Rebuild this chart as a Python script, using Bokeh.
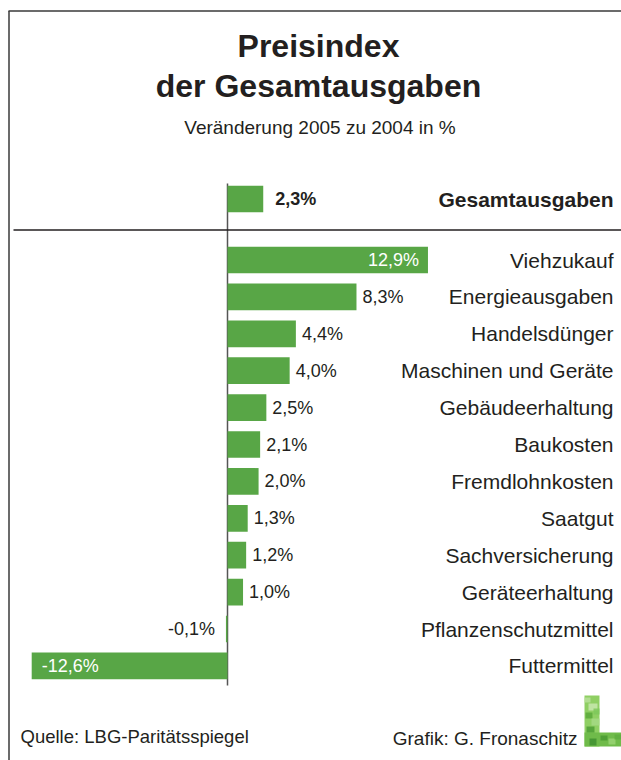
from bokeh.plotting import figure
from bokeh.models import Range1d
from bokeh.core.properties import value
from bokeh.embed import file_html
from bokeh.resources import INLINE

# ---------------- data ----------------
categories = ["Viehzukauf", "Energieausgaben", "Handelsdünger", "Maschinen und Geräte",
              "Gebäudeerhaltung", "Baukosten", "Fremdlohnkosten", "Saatgut",
              "Sachversicherung", "Geräteerhaltung", "Pflanzenschutzmittel", "Futtermittel"]
values = [12.9, 8.3, 4.4, 4.0, 2.5, 2.1, 2.0, 1.3, 1.2, 1.0, -0.1, -12.6]
total_category = "Gesamtausgaben"
total_value = 2.3

title_lines = ["Preisindex", "der Gesamtausgaben"]
subtitle = "Veränderung 2005 zu 2004 in %"
source_text = "Quelle: LBG-Paritätsspiegel"
credit_text = "Grafik: G. Fronaschitz"

# ---------------- layout ----------------
W, H = 621, 760
PX_PER_PCT = 15.54
ZERO_PX = 227.0
ROW0 = 259.5
STEP = 36.9
TOTAL_Y = 198.5
BAR_H = 26.7
GREEN = "#58a646"
INK = "#231f20"
FONT = "Liberation Sans"

XS = -ZERO_PX / PX_PER_PCT
XE = (W - ZERO_PX) / PX_PER_PCT


def cx(px):
    return XS + px / PX_PER_PCT


def fmt(v):
    return f"{v:.1f}".replace(".", ",") + "%"


p = figure(width=W, height=H, output_backend="svg", toolbar_location=None,
           x_range=Range1d(XS, XE), y_range=Range1d(H, 0),
           min_border=0, outline_line_color=None)
p.axis.visible = False
p.grid.visible = False
p.background_fill_color = "white"
p.border_fill_color = "white"

# frame (left and top edges)
p.segment(x0=[cx(8.5), cx(8)], y0=[10.5, 10.5], x1=[cx(8.5), cx(W)], y1=[H, 10.5],
          line_color="#3a3a3a", line_width=1.5)

# title
p.text(x=[cx(318)], y=[45], text=[title_lines[0]], text_font=value(FONT),
       text_font_style="bold", text_font_size="32px", text_color=INK,
       text_align="center", text_baseline="middle")
p.text(x=[cx(318)], y=[85], text=[title_lines[1]], text_font=value(FONT),
       text_font_style="bold", text_font_size="32px", text_color=INK,
       text_align="center", text_baseline="middle")
p.text(x=[cx(319.5)], y=[127], text=[subtitle], text_font=value(FONT),
       text_font_size="19px", text_color=INK,
       text_align="center", text_baseline="middle")

# rows
ys = [ROW0 + i * STEP for i in range(len(categories))]

# zero axis and separator
p.segment(x0=[0], y0=[183], x1=[0], y1=[685], line_color="#555555", line_width=1.5)
p.segment(x0=[cx(13)], y0=[229.5], x1=[cx(W)], y1=[229.5], line_color=INK, line_width=1.3)

# bars
p.hbar(y=ys, left=0, right=values, height=BAR_H, fill_color=GREEN, line_color=None)
p.hbar(y=[TOTAL_Y], left=0, right=[total_value], height=BAR_H, fill_color=GREEN, line_color=None)

# value labels
groups = {"in_r": ([], [], []), "in_l": ([], [], []), "out_r": ([], [], []), "out_l": ([], [], [])}
for v, y in zip(values, ys):
    if v >= 10:
        key = "in_r"
    elif v <= -10:
        key = "in_l"
    elif v >= 0:
        key = "out_r"
    else:
        key = "out_l"
    groups[key][0].append(v)
    groups[key][1].append(y)
    groups[key][2].append(fmt(v))

common = dict(text_font=value(FONT), text_font_size="18px", text_baseline="middle")
x, y, t = groups["in_r"]
p.text(x=x, y=y, text=t, text_color="white", text_align="right", x_offset=-9, **common)
x, y, t = groups["in_l"]
p.text(x=x, y=y, text=t, text_color="white", text_align="left", x_offset=10, **common)
x, y, t = groups["out_r"]
p.text(x=x, y=y, text=t, text_color=INK, text_align="left", x_offset=6, **common)
x, y, t = groups["out_l"]
p.text(x=x, y=y, text=t, text_color=INK, text_align="right", x_offset=-11, **common)

p.text(x=[total_value], y=[TOTAL_Y], text=[fmt(total_value)], text_color=INK,
       text_align="left", x_offset=12, text_font_style="bold", **common)

# category labels
p.text(x=[cx(613)] * len(categories), y=ys, text=categories, text_font=value(FONT),
       text_font_size="21px", text_color=INK, text_align="right", text_baseline="middle")
p.text(x=[cx(613)], y=[TOTAL_Y], text=[total_category], text_font=value(FONT),
       text_font_size="21px", text_font_style="bold", text_color=INK,
       text_align="right", text_baseline="middle")

# footer
p.text(x=[cx(20)], y=[736], text=[source_text], text_font=value(FONT),
       text_font_size="18.5px", text_color=INK, text_align="left", text_baseline="middle")
p.text(x=[cx(577)], y=[738], text=[credit_text], text_font=value(FONT),
       text_font_size="19px", text_color=INK, text_align="right", text_baseline="middle")

# logo (green "L" with grass-like texture)
p.quad(left=[cx(584), cx(584)], right=[cx(599), cx(W)], top=[695, 732], bottom=[746, 746],
       fill_color=["#8fcf63", "#6fbb4a"], line_color=None)
p.quad(left=[cx(584), cx(588), cx(585), cx(591), cx(586), cx(593), cx(600), cx(608), cx(614), cx(589)],
       right=[cx(590), cx(597), cx(592), cx(599), cx(594), cx(599), cx(607), cx(615), cx(621), cx(596)],
       top=[697, 703, 712, 718, 726, 708, 735, 738, 734, 738],
       bottom=[702, 710, 718, 725, 732, 714, 740, 744, 739, 745],
       fill_color=["#b9e19a", "#c8e8ad", "#5aa93a", "#a6d985", "#4e9e35",
                   "#7ec85a", "#4a9a32", "#9ad474", "#5fae40", "#3f9030"],
       fill_alpha=0.85, line_color=None)

open("out.html", "w").write(file_html(p, INLINE))
